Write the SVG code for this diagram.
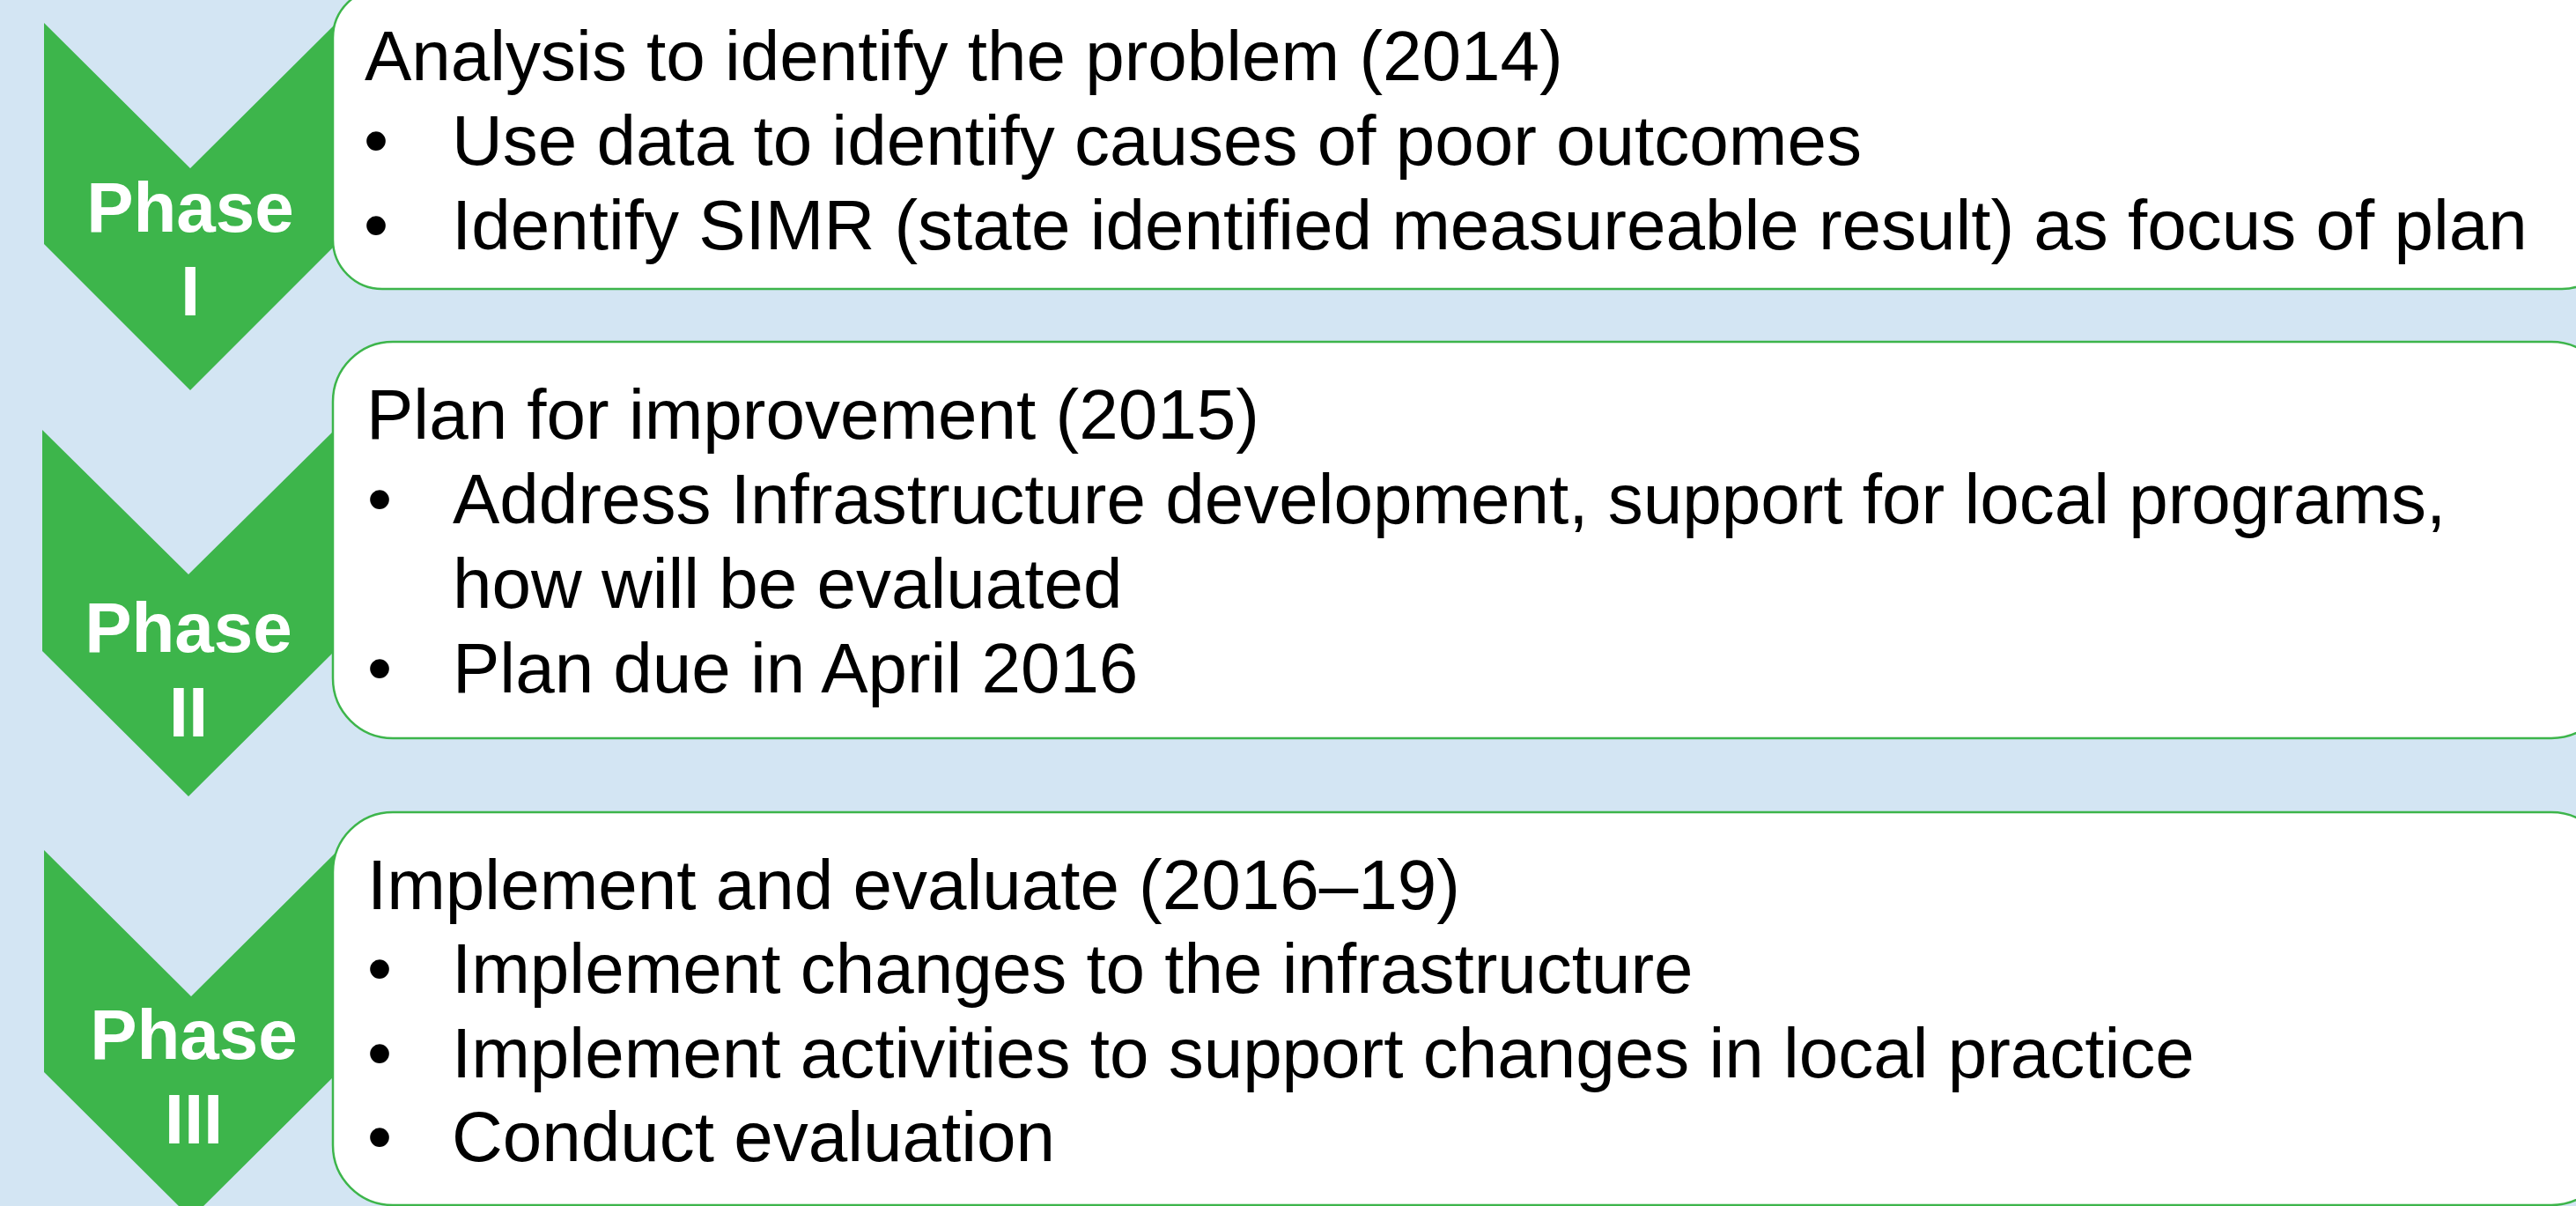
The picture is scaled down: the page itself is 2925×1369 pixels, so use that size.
<svg xmlns="http://www.w3.org/2000/svg" width="2925" height="1369" viewBox="0 0 2925 1369">
<style>
.bg{fill:#D3E5F3}
.chev{fill:#3DB54B}
.box{fill:#FFFFFF;stroke:#3DB54B;stroke-width:2.5}
.ph{font-family:"Liberation Sans",Arial,sans-serif;font-weight:bold;font-size:80px;fill:#FFFFFF;text-anchor:middle}
.tx{font-family:"Liberation Sans",Arial,sans-serif;font-size:80px;fill:#000000}
</style>
<rect class="bg" x="0" y="0" width="2925" height="1369"/>
<g id="connectors"></g>
<g id="phase1">
<polygon class="chev" points="50,26 216,191 382,26 382,277 216,443 50,277"/>
<text class="ph" x="216" y="263">Phase</text>
<text class="ph" x="216" y="358">I</text>
</g>
<g id="phase2">
<polygon class="chev" points="48,488 214,652 380,488 380,739 214,904 48,739"/>
<text class="ph" x="214" y="740">Phase</text>
<text class="ph" x="214" y="836">II</text>
</g>
<g id="phase3">
<polygon class="chev" points="50,965 217,1131 384,965 384,1217 217,1383 50,1217"/>
<text class="ph" x="220" y="1202">Phase</text>
<text class="ph" x="220" y="1298">III</text>
</g>
<g id="box1">
<rect class="box" x="378" y="-13" width="2587" height="341" rx="56" ry="56"/>
<text class="tx" x="414" y="91">Analysis to identify the problem (2014)</text>
<text class="tx" x="413" y="187">•</text>
<text class="tx" x="513" y="187">Use data to identify causes of poor outcomes</text>
<text class="tx" x="413" y="283">•</text>
<text class="tx" x="513" y="283">Identify SIMR (state identified measureable result) as focus of plan</text>
</g>
<g id="box2">
<rect class="box" x="378" y="388" width="2587" height="450" rx="68" ry="68"/>
<text class="tx" x="416" y="498">Plan for improvement (2015)</text>
<text class="tx" x="417" y="594">•</text>
<text class="tx" x="514" y="594">Address Infrastructure development, support for local programs,</text>
<text class="tx" x="514" y="690">how will be evaluated</text>
<text class="tx" x="417" y="786">•</text>
<text class="tx" x="514" y="786">Plan due in April 2016</text>
</g>
<g id="box3">
<rect class="box" x="378" y="922" width="2587" height="446" rx="68" ry="68"/>
<text class="tx" x="417" y="1032">Implement and evaluate (2016–19)</text>
<text class="tx" x="417" y="1127">•</text>
<text class="tx" x="513" y="1127">Implement changes to the infrastructure</text>
<text class="tx" x="417" y="1223">•</text>
<text class="tx" x="513" y="1223">Implement activities to support changes in local practice</text>
<text class="tx" x="417" y="1318">•</text>
<text class="tx" x="513" y="1318">Conduct evaluation</text>
</g>
</svg>
